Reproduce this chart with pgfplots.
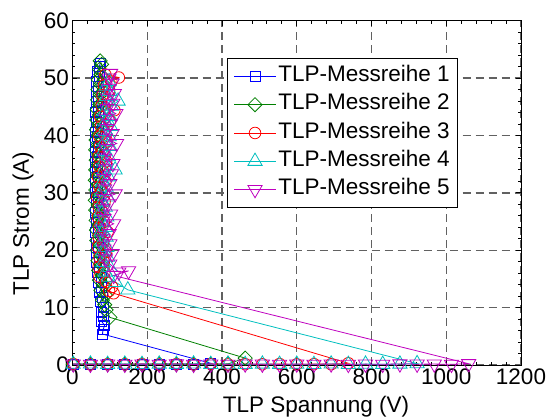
\documentclass[border=0pt]{standalone}
\usepackage{fontspec}
\setmainfont{Liberation Sans}
\usepackage{pgfplots}
\pgfplotsset{compat=1.18}
\definecolor{mblue}{rgb}{0,0,1}
\definecolor{mgreen}{rgb}{0,0.5,0}
\definecolor{mred}{rgb}{1,0,0}
\definecolor{mcyan}{rgb}{0,0.75,0.75}
\definecolor{mmag}{rgb}{0.75,0,0.75}
\definecolor{gridc}{rgb}{0.38,0.38,0.38}
\begin{document}
\begin{tikzpicture}
\useasboundingbox (-72.5bp,-53bp) rectangle (480.5bp,365bp);
\begin{axis}[
  at={(0,0)}, anchor=south west,
  scale only axis, width=448.5bp, height=344.3bp,
  xmin=0, xmax=1200, ymin=0, ymax=60,
  xtick={0,200,...,1200}, ytick={0,10,...,60},
  minor x tick num=4, minor y tick num=4,
  tick align=inside, major tick length=5bp, minor tick length=3bp,
  xmajorgrids, ymajorgrids,
  major grid style={gridc, line width=1.4bp, dash pattern=on 8bp off 5bp},
  axis line style={line width=0.8bp},
  every tick/.style={black, line width=0.8bp},
  /pgf/number format/assume math mode=true,
  /pgf/number format/1000 sep={},
  ticklabel style={font=\fontsize{22.5bp}{27bp}\selectfont},
  scaled ticks=false,
  clip=false,
  label style={font=\fontsize{22.5bp}{27bp}\selectfont},
  xlabel={TLP Spannung (V)}, ylabel={TLP Strom (A)},
  xlabel style={at={(axis description cs:0.543,-0.1394)}, anchor=base},
  ylabel style={at={(axis description cs:-0.097,0.41)}, anchor=base, rotate=0},
  legend style={at={(0.345,0.891)}, anchor=north west, draw=black, line width=0.8bp, fill=white,
    inner xsep=6bp, inner ysep=8bp, row sep=8.8bp,
    nodes={inner xsep=2bp, inner ysep=0pt, text height=15bp, text depth=4.5bp},
    font=\fontsize{22.5bp}{27bp}\selectfont},
  legend cell align=left,
  legend image code/.code={\draw[mark repeat=2,mark phase=2] plot coordinates {(0bp,0bp) (21bp,0bp) (42bp,0bp)};},
]
\addplot[mblue, line width=0.8bp, mark=square, mark size=5bp, mark options={solid}] coordinates {
(2,0.15)(48,0.12)(94,0.18)(140,0.1)(186,0.16)(232,0.13)(278,0.19)(324,0.14)(370,0.3)
(80,5.4)(82,6.2)(86,6.9)(78,7.6)(84,8.4)(76,9.2)(82,10.1)(74,11.0)(80,11.8)(72,12.7)(78,13.5)
(70,14.4)(76,15.3)(66,16.1)(72,17.0)(65,17.9)(71,18.8)(64,19.6)(70,20.5)(63,21.4)(69,22.3)
(62,23.1)(68,24.0)(64,24.9)(70,25.8)(62,26.6)(68,27.5)(63,28.4)(69,29.3)(62,30.1)(67,31.0)
(61,31.9)(68,32.8)(62,33.6)(67,34.5)(60,35.4)(66,36.3)(62,37.1)(68,38.0)(61,38.9)(67,39.8)
(62,40.6)(68,41.5)(63,42.4)(69,43.3)(62,44.1)(68,45.0)(63,45.9)(69,46.8)(64,47.6)(70,48.5)
(65,49.4)(71,50.3)(66,51.1)(72,52.0)(74,52.6)
};
\addlegendentry{TLP-Messreihe 1}
\addplot[mgreen, line width=0.8bp, mark=square, mark size=5bp, mark options={solid, rotate=45}] coordinates {
(2,0.12)(48,0.17)(94,0.1)(140,0.15)(186,0.12)(232,0.18)(278,0.11)(324,0.16)(370,0.13)(416,0.2)(462,1.2)
(100,8.3)(90,9.6)(86,10.5)(80,11.3)(88,12.2)(76,13.0)(84,13.9)(72,14.8)(80,15.6)(70,16.5)
(78,17.4)(68,18.2)(76,19.1)(66,20.0)(74,20.9)(65,21.7)(72,22.6)(64,23.5)(71,24.4)(63,25.2)
(70,26.1)(62,27.0)(69,27.9)(61,28.7)(68,29.6)(62,30.5)(69,31.4)(61,32.2)(68,33.1)(62,34.0)
(69,34.9)(63,35.7)(70,36.6)(62,37.5)(69,38.4)(63,39.2)(70,40.1)(64,41.0)(71,41.9)(65,42.7)
(72,43.6)(66,44.5)(73,45.4)(67,46.2)(74,47.1)(68,48.0)(75,48.9)(69,49.7)(76,50.6)(72,51.5)
(78,52.4)(74,53.0)
};
\addlegendentry{TLP-Messreihe 2}
\addplot[mred, line width=0.8bp, mark=o, mark size=5.8bp, mark options={solid}] coordinates {
(2,0.18)(48,0.11)(94,0.15)(140,0.13)(186,0.17)(232,0.1)(278,0.16)(324,0.12)(370,0.18)(416,0.11)
(462,0.15)(508,0.13)(554,0.17)(600,0.12)(646,0.16)(692,0.14)(738,0.3)
(110,12.5)(98,12.9)(106,13.6)(90,14.5)(72,15.4)(86,16.2)(70,17.1)(84,18.0)(72,18.8)(90,19.7)
(68,20.6)(82,21.5)(70,22.3)(94,23.2)(72,24.1)(84,25.0)(68,25.8)(80,26.7)(70,27.6)(86,28.5)
(66,29.3)(78,30.2)(72,31.1)(88,32.0)(68,32.8)(82,33.7)(72,34.6)(90,35.5)(70,36.3)(80,37.2)
(74,38.1)(92,39.0)(72,39.8)(84,40.7)(76,41.6)(100,42.5)(74,43.3)(112,44.4)(78,45.2)(94,46.1)
(80,47.0)(98,47.9)(84,48.7)(104,49.4)(124,50.1)(88,50.6)
};
\addlegendentry{TLP-Messreihe 3}
\addplot[mcyan, line width=0.8bp, mark=triangle, mark size=8.2bp, mark options={solid}] coordinates {
(2,0.14)(48,0.18)(94,0.12)(140,0.16)(186,0.11)(232,0.17)(278,0.13)(324,0.18)(370,0.12)(416,0.16)
(462,0.1)(508,0.17)(554,0.13)(600,0.15)(646,0.11)(692,0.18)(738,0.12)(784,0.16)(830,0.13)(876,0.17)(922,0.25)
(148,13.1)(116,14.4)(96,15.3)(88,16.2)(100,17.0)(82,17.9)(94,18.8)(80,19.7)(92,20.5)(78,21.4)
(90,22.3)(76,23.2)(88,24.0)(78,24.9)(92,25.8)(76,26.7)(88,27.5)(80,28.4)(94,29.3)(78,30.2)
(90,31.0)(80,31.9)(96,32.8)(82,33.7)(114,34.0)(84,35.4)(96,36.3)(82,37.2)(100,38.1)(86,38.9)
(98,39.8)(84,40.7)(102,41.6)(88,42.4)(100,43.3)(86,44.2)(104,45.1)(122,46.0)(92,46.8)(100,47.7)
(90,48.6)(98,49.4)
};
\addlegendentry{TLP-Messreihe 4}
\addplot[mmag, line width=0.8bp, mark=triangle, mark size=8.2bp, mark options={solid, rotate=180}] coordinates {
(2,0.16)(48,0.12)(94,0.17)(140,0.11)(186,0.15)(232,0.13)(278,0.18)(324,0.1)(370,0.16)(416,0.12)
(462,0.17)(508,0.14)(554,0.11)(600,0.16)(646,0.13)(692,0.17)(738,0.1)(784,0.15)(830,0.12)(876,0.18)
(922,0.14)(968,0.16)(1014,0.12)(1060,0.22)
(110,15.6)(150,16.4)(124,16.2)(100,17.6)(88,18.5)(106,19.4)(84,20.2)(100,21.1)(82,22.0)(98,22.9)
(80,23.7)(110,24.6)(84,25.5)(102,26.3)(82,27.2)(96,28.1)(84,29.0)(114,29.8)(86,30.7)(100,31.6)
(84,32.5)(104,33.3)(88,34.2)(108,35.1)(86,36.0)(102,36.8)(90,37.7)(118,38.6)(88,39.5)(106,40.3)
(92,41.2)(102,42.1)(90,43.0)(116,43.8)(92,44.7)(108,45.6)(94,46.5)(112,47.3)(96,48.2)(106,49.1)
(98,50.0)(102,50.8)
};
\addlegendentry{TLP-Messreihe 5}
\end{axis}
\end{tikzpicture}
\end{document}
